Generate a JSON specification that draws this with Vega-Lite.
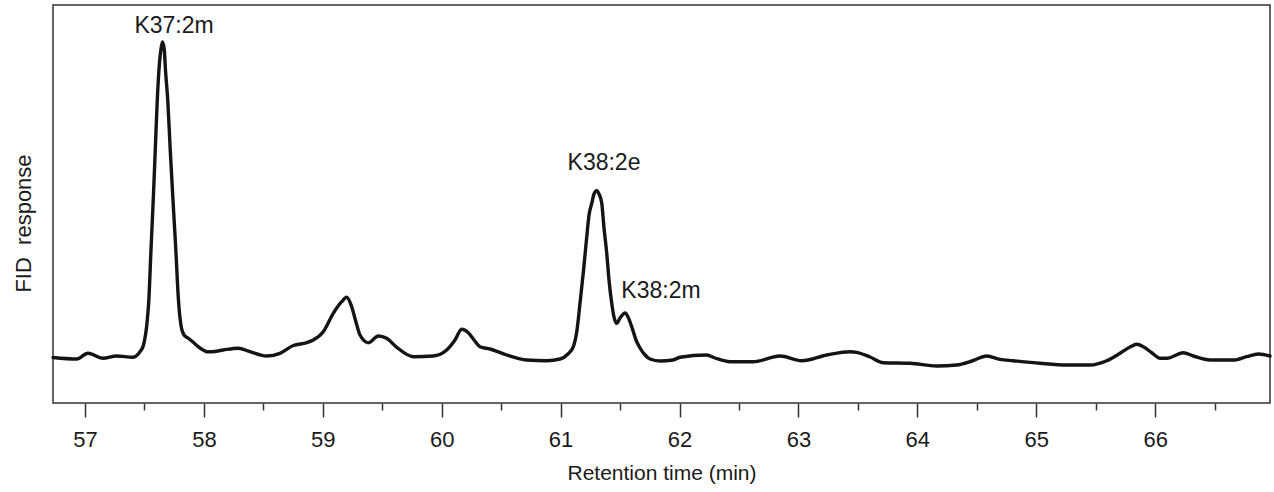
{
  "$schema": "https://vega.github.io/schema/vega-lite/v6.json",
  "autosize": {"type": "none"},
  "padding": {"left": 53, "top": 5, "right": 4, "bottom": 89},
  "width": 1217,
  "height": 398,
  "config": {
    "view": {"stroke": "#333333", "strokeWidth": 1.5},
    "font": "Liberation Sans",
    "axis": {"domain": false, "grid": false, "tickColor": "#333333", "tickWidth": 1.5, "labelColor": "#1a1a1a", "titleColor": "#1a1a1a", "labelFont": "Liberation Sans", "titleFont": "Liberation Sans", "titleFontWeight": "normal"}
  },
  "datasets": {
    "trace": [
      {"t": 56.731, "r": 45.5}, {"t": 56.930, "r": 44}, {"t": 57.025, "r": 49.7}, {"t": 57.151, "r": 44.7},
      {"t": 57.267, "r": 47}, {"t": 57.404, "r": 45.7}, {"t": 57.463, "r": 51.3}, {"t": 57.492, "r": 58},
      {"t": 57.524, "r": 83}, {"t": 57.537, "r": 103}, {"t": 57.555, "r": 153}, {"t": 57.574, "r": 203},
      {"t": 57.591, "r": 253}, {"t": 57.608, "r": 303}, {"t": 57.622, "r": 333}, {"t": 57.638, "r": 353},
      {"t": 57.652, "r": 361}, {"t": 57.667, "r": 353}, {"t": 57.677, "r": 333}, {"t": 57.696, "r": 303},
      {"t": 57.717, "r": 253}, {"t": 57.740, "r": 203}, {"t": 57.764, "r": 153}, {"t": 57.786, "r": 103},
      {"t": 57.807, "r": 78}, {"t": 57.833, "r": 68}, {"t": 57.866, "r": 65}, {"t": 57.908, "r": 61},
      {"t": 57.967, "r": 55}, {"t": 58.026, "r": 51.3}, {"t": 58.068, "r": 51.3}, {"t": 58.163, "r": 53},
      {"t": 58.289, "r": 54.7}, {"t": 58.388, "r": 51.3}, {"t": 58.528, "r": 47}, {"t": 58.640, "r": 49.7},
      {"t": 58.752, "r": 57.5}, {"t": 58.865, "r": 60.3}, {"t": 58.920, "r": 63}, {"t": 59.004, "r": 71.3},
      {"t": 59.088, "r": 89.7}, {"t": 59.159, "r": 101.3}, {"t": 59.201, "r": 105.7}, {"t": 59.243, "r": 96.3},
      {"t": 59.279, "r": 81}, {"t": 59.313, "r": 68}, {"t": 59.383, "r": 60.3}, {"t": 59.467, "r": 67},
      {"t": 59.537, "r": 64.7}, {"t": 59.622, "r": 55.7}, {"t": 59.761, "r": 46.3}, {"t": 59.929, "r": 47},
      {"t": 60.042, "r": 53}, {"t": 60.112, "r": 63}, {"t": 60.168, "r": 73.7}, {"t": 60.224, "r": 70.3},
      {"t": 60.272, "r": 63}, {"t": 60.322, "r": 56.3}, {"t": 60.406, "r": 54}, {"t": 60.547, "r": 48},
      {"t": 60.715, "r": 43}, {"t": 60.883, "r": 42.3}, {"t": 60.995, "r": 44}, {"t": 61.062, "r": 49},
      {"t": 61.107, "r": 56.3}, {"t": 61.138, "r": 73}, {"t": 61.163, "r": 99.7}, {"t": 61.193, "r": 133},
      {"t": 61.220, "r": 166.3}, {"t": 61.239, "r": 188}, {"t": 61.262, "r": 199.7}, {"t": 61.281, "r": 209},
      {"t": 61.304, "r": 212.3}, {"t": 61.323, "r": 209}, {"t": 61.346, "r": 199.7}, {"t": 61.365, "r": 175},
      {"t": 61.388, "r": 149.7}, {"t": 61.407, "r": 123}, {"t": 61.430, "r": 99.7}, {"t": 61.449, "r": 86},
      {"t": 61.472, "r": 79.7}, {"t": 61.500, "r": 85}, {"t": 61.542, "r": 90}, {"t": 61.567, "r": 86},
      {"t": 61.598, "r": 76.3}, {"t": 61.634, "r": 63}, {"t": 61.668, "r": 55}, {"t": 61.710, "r": 48},
      {"t": 61.752, "r": 44}, {"t": 61.836, "r": 42}, {"t": 61.945, "r": 43}, {"t": 62.004, "r": 45.7},
      {"t": 62.229, "r": 48}, {"t": 62.299, "r": 45}, {"t": 62.425, "r": 41.3}, {"t": 62.621, "r": 41.3},
      {"t": 62.845, "r": 47}, {"t": 63.028, "r": 42.3}, {"t": 63.238, "r": 48}, {"t": 63.434, "r": 51.3},
      {"t": 63.490, "r": 50.7}, {"t": 63.602, "r": 46}, {"t": 63.714, "r": 40.3}, {"t": 63.939, "r": 39.7},
      {"t": 64.163, "r": 37}, {"t": 64.331, "r": 38}, {"t": 64.460, "r": 42}, {"t": 64.584, "r": 47},
      {"t": 64.696, "r": 43.7}, {"t": 64.807, "r": 42.3}, {"t": 65.032, "r": 39.7}, {"t": 65.257, "r": 38},
      {"t": 65.453, "r": 38}, {"t": 65.593, "r": 42.3}, {"t": 65.705, "r": 49.7}, {"t": 65.789, "r": 56},
      {"t": 65.845, "r": 58.7}, {"t": 65.901, "r": 56.3}, {"t": 65.974, "r": 50}, {"t": 66.041, "r": 44.7},
      {"t": 66.098, "r": 44.7}, {"t": 66.237, "r": 50.3}, {"t": 66.321, "r": 47}, {"t": 66.462, "r": 43},
      {"t": 66.658, "r": 43}, {"t": 66.770, "r": 46.3}, {"t": 66.868, "r": 49}, {"t": 66.966, "r": 47}
    ],
    "labels": [
      {"t": 57.749, "r": 370, "label": "K37:2m"},
      {"t": 61.365, "r": 233, "label": "K38:2e"},
      {"t": 61.844, "r": 104.7, "label": "K38:2m"}
    ]
  },
  "layer": [
    {
      "data": {"name": "trace"},
      "mark": {"type": "line", "color": "#141414", "strokeWidth": 3.4, "interpolate": "monotone", "strokeJoin": "round", "strokeCap": "round"},
      "encoding": {
        "x": {"field": "t", "type": "quantitative",
              "scale": {"domain": [56.731, 66.966], "nice": false, "zero": false},
              "axis": {"orient": "bottom", "values": [57, 58, 59, 60, 61, 62, 63, 64, 65, 66], "tickSize": 14, "labelFontSize": 22, "labelBaseline": "alphabetic", "labelPadding": 29, "labelFlush": false, "labelOverlap": false, "title": "Retention time (min)", "titleFontSize": 21, "titleBaseline": "alphabetic", "titleY": 76}},
        "y": {"field": "r", "type": "quantitative",
              "scale": {"domain": [0, 398], "nice": false, "zero": false},
              "axis": {"ticks": false, "labels": false, "title": "FID\u00a0\u00a0response", "titleFontSize": 22, "titleAngle": -90, "titleX": -18, "titleY": 218, "titleAlign": "center", "titleBaseline": "bottom"}}
      }
    },
    {
      "data": {"name": "labels"},
      "mark": {"type": "text", "fontSize": 23, "font": "Liberation Sans", "color": "#1a1a1a", "align": "center", "baseline": "alphabetic"},
      "encoding": {
        "x": {"field": "t", "type": "quantitative",
              "axis": {"orient": "bottom", "values": [57.5, 58.5, 59.5, 60.5, 61.5, 62.5, 63.5, 64.5, 65.5, 66.5], "tickSize": 7, "labels": false, "title": null}},
        "y": {"field": "r", "type": "quantitative"},
        "text": {"field": "label"}
      }
    }
  ],
  "resolve": {"axis": {"x": "independent"}}
}
